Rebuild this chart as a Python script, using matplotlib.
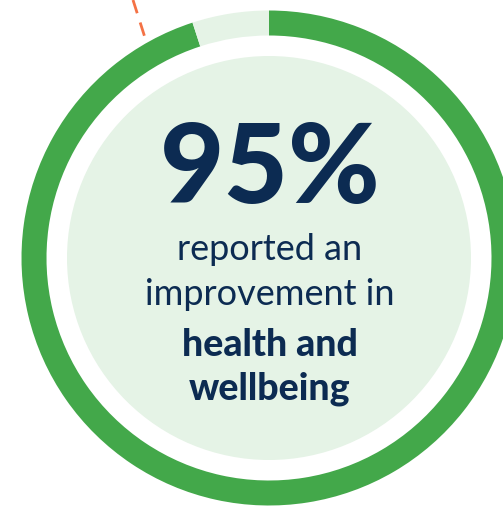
import matplotlib.pyplot as plt
from matplotlib.patches import Circle

# share of respondents
share_values = [95, 5]
ring_colors = ["#43A84A", "#E5F3E6"]

headline = "95%"
lead_lines = ["reported an", "improvement in"]
bold_lines = ["health and", "wellbeing"]

NAVY = "#0C2B52"
CENTER = (269, 258)
OUTER_R = 247.5
RING_W = 25
DISC_R = 202

fig = plt.figure(figsize=(5.03, 5.07), dpi=100)
ax = fig.add_axes([0, 0, 1, 1])

# y axis is flipped below, so -90 is the top and counterclock runs clockwise on screen
ax.pie(
    share_values,
    colors=ring_colors,
    startangle=-90,
    counterclock=True,
    center=CENTER,
    radius=OUTER_R,
    wedgeprops=dict(width=RING_W, linewidth=0),
)

ax.add_patch(Circle(CENTER, DISC_R, facecolor="#E5F3E6", edgecolor="none"))

# leader line poking in from the top
ax.plot([133, 147], [0, 44], color="#F47245", linewidth=2,
        linestyle=(0, (5, 3.5)), solid_capstyle="butt")

ax.set_xlim(0, 503)
ax.set_ylim(507, 0)
ax.set_aspect("equal")
ax.axis("off")

ax.text(270, 203, headline, ha="center", va="baseline", fontsize=80,
        fontfamily="Lato", fontweight="black", color=NAVY)

for y, line in zip([260, 305], lead_lines):
    ax.text(270, y, line, ha="center", va="baseline", fontsize=26,
            fontfamily="Lato", fontweight="normal", color=NAVY)

for y, line in zip([356, 400], bold_lines):
    ax.text(270, y, line, ha="center", va="baseline", fontsize=27,
            fontfamily="Lato", fontweight="black", color=NAVY)

fig.savefig("out.png", dpi=100)
